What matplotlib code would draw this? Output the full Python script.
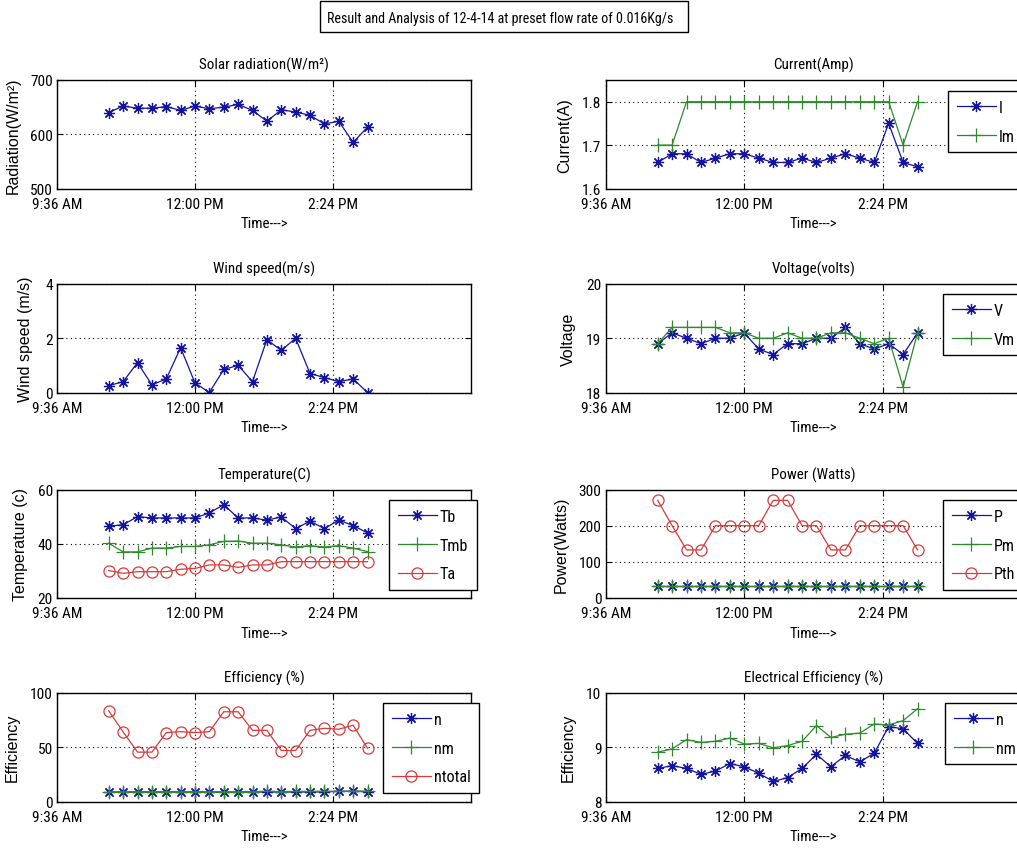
import matplotlib
matplotlib.use("Agg")
import matplotlib.pyplot as plt
from matplotlib.patches import Rectangle
from matplotlib import font_manager

# ---------------- data ----------------
times = ['10:30', '10:45', '11:00', '11:15', '11:30', '11:45', '12:00', '12:15',
         '12:30', '12:45', '13:00', '13:15', '13:30', '13:45', '14:00', '14:15',
         '14:30', '14:45', '15:00']

solar = [640, 652, 648, 648, 651, 644, 652, 647, 650, 655, 644, 624, 645, 641,
         635, 619, 624, 585, 613]
wind = [0.25, 0.4, 1.1, 0.28, 0.5, 1.65, 0.35, 0.0, 0.85, 1.0, 0.4, 1.95, 1.55,
        2.0, 0.7, 0.55, 0.4, 0.5, 0.0]
Tb = [46.5, 47, 50, 49.5, 49.5, 49.5, 49.5, 51.4, 54.4, 49.5, 49.5, 48.7, 49.9,
      45.6, 48.3, 45.6, 48.7, 46.7, 44.0]
Tmb = [40.2, 37, 37, 38.4, 38.4, 39, 39, 39.6, 40.9, 41, 40.2, 40.2, 39.6, 38.8,
       39.3, 38.8, 39.3, 38.4, 37.1]
Ta = [30.1, 29.1, 29.7, 29.7, 29.7, 30.6, 30.9, 32.2, 32.2, 31.3, 32.2, 32.2,
      33.4, 33.4, 33.4, 33.4, 33.4, 33.4, 33.4]
I = [1.66, 1.68, 1.68, 1.66, 1.67, 1.68, 1.68, 1.67, 1.66, 1.66, 1.67, 1.66,
     1.67, 1.68, 1.67, 1.66, 1.75, 1.66, 1.65]
Im = [1.7, 1.7, 1.8, 1.8, 1.8, 1.8, 1.8, 1.8, 1.8, 1.8, 1.8, 1.8, 1.8, 1.8,
      1.8, 1.8, 1.8, 1.7, 1.8]
V = [18.9, 19.1, 19.0, 18.9, 19.0, 19.0, 19.1, 18.8, 18.7, 18.9, 18.9, 19.0,
     19.0, 19.2, 18.9, 18.8, 18.9, 18.7, 19.1]
Vm = [18.9, 19.2, 19.2, 19.2, 19.2, 19.1, 19.1, 19.0, 19.0, 19.1, 19.0, 19.0,
      19.1, 19.1, 19.0, 18.9, 19.0, 18.1, 19.1]
P = [32, 32, 32, 32, 32, 32, 32, 32, 32, 32, 32, 32, 32, 32, 32, 32, 32, 32, 32]
Pm = [34, 34, 34, 34, 34, 34, 34, 34, 34, 34, 34, 34, 34, 34, 34, 34, 34, 34, 34]
Pth = [270, 200, 133, 133, 200, 200, 200, 200, 270, 270, 200, 200, 133, 133,
       200, 200, 200, 200, 133]
n_el = [8.61, 8.66, 8.61, 8.50, 8.56, 8.70, 8.64, 8.52, 8.37, 8.44, 8.61, 8.87,
        8.64, 8.85, 8.73, 8.89, 9.38, 9.34, 9.07]
nm_el = [8.91, 8.97, 9.14, 9.09, 9.11, 9.17, 9.06, 9.07, 8.99, 9.03, 9.11, 9.40,
         9.18, 9.24, 9.26, 9.43, 9.41, 9.49, 9.71]
ntotal = [83.6, 64.1, 45.5, 45.5, 63.5, 64.4, 63.5, 64.4, 82.7, 82.7, 65.6, 65.6,
          47, 47, 65.6, 67.5, 66.6, 70.3, 49]

xtick_hours = [9.6, 12.0, 14.4]
xtick_labels = ['9:36 AM', '12:00 PM', '2:24 PM']
fig_title = 'Result and Analysis of 12-4-14 at preset flow rate of 0.016Kg/s'

hours = [int(t.split(':')[0]) + int(t.split(':')[1]) / 60 for t in times]

# ---------------- fonts ----------------
available = {f.name for f in font_manager.fontManager.ttflist}
NARROW = 'Liberation Sans'
for cand in ['Liberation Sans Narrow', 'Roboto Condensed', 'DejaVu Sans Condensed',
             'Open Sans Condensed', 'Liberation Sans']:
    if cand in available:
        NARROW = cand
        break
WIDE = 'Liberation Sans' if 'Liberation Sans' in available else 'DejaVu Sans'
plt.rcParams['font.family'] = [NARROW, 'DejaVu Sans']

W, H = 1017, 862
fig = plt.figure(figsize=(W / 100, H / 100), dpi=100)
fig.patch.set_facecolor('white')
renderer = fig.canvas.get_renderer()


def fit_size(text, family, target_px):
    t = fig.text(0, 0, text, fontsize=10, family=family)
    w = t.get_window_extent(renderer).width
    t.remove()
    return 10 * target_px / w


FS = min(fit_size('12:00 PM', NARROW, 57), 12)
TFS = FS * 0.98
BOXFS = min(fit_size(fig_title, NARROW, 345), 12)
YFS = min(fit_size('Temperature (c)', WIDE, 158), 11.5)

BLUE = '#1414a0'
GREEN = '#2f8a2f'
RED = '#d83a3a'
AST = (8, 2, 0)


def make_ax(left_px, top_px, width_px, height_px=108.5):
    return fig.add_axes([left_px / W, 1 - (top_px + height_px) / H,
                         width_px / W, height_px / H])


def style(ax, ylim, yticks, title, ylabel, ylab_x):
    ax.set_xlim(9.6, 16.8)
    ax.set_ylim(*ylim)
    ax.set_xticks(xtick_hours)
    ax.set_xticklabels(xtick_labels)
    ax.set_yticks(yticks)
    ax.set_yticklabels([('%g' % v) for v in yticks])
    ax.tick_params(direction='in', length=4, width=0.8, top=True, right=True,
                   labelsize=FS, pad=3)
    ax.tick_params(axis='x', pad=6)
    ax.grid(True, color='black', linestyle=(0, (1, 3)), linewidth=0.8)
    for s in ax.spines.values():
        s.set_linewidth(1.0)
    ax.set_title(title, fontsize=TFS, pad=8)
    ax.set_xlabel('Time--->', fontsize=TFS, labelpad=4)
    ax.set_ylabel(ylabel, family=[WIDE, 'DejaVu Sans'], fontsize=YFS)
    ax.yaxis.set_label_coords(ylab_x, 0.5)


def legend(ax, x_px, y_px):
    lg = ax.legend(loc='upper left', bbox_to_anchor=(x_px / W, 1 - y_px / H),
                   bbox_transform=fig.transFigure, borderaxespad=0,
                   fancybox=False, framealpha=1, edgecolor='black',
                   fontsize=FS * 1.05, handlelength=2.4, handletextpad=0.2,
                   labelspacing=0.85, borderpad=0.55)
    lg.get_frame().set_linewidth(1.0)
    return lg


LX, LW = 57, 414
RX, RW = 605.7, 415.8
tops = [81, 285, 490.5, 694]

line_kw = dict(linewidth=0.9)
ast_kw = dict(marker=AST, markersize=8, markeredgewidth=0.9)
plus_kw = dict(marker='+', markersize=10, markeredgewidth=0.9)
circ_kw = dict(marker='o', markersize=8, markerfacecolor='none', markeredgewidth=0.9)

# Solar radiation
ax = make_ax(LX, tops[0], LW)
ax.plot(hours, solar, color=BLUE, **ast_kw, **line_kw)
style(ax, (500, 700), [500, 600, 700], 'Solar radiation(W/m²)',
      'Radiation(W/m²)', -0.088)

# Current
ax = make_ax(RX, tops[0], RW)
ax.plot(hours, I, color=BLUE, label='I', **ast_kw, **line_kw)
ax.plot(hours, Im, color=GREEN, label='Im', **plus_kw, **line_kw)
style(ax, (1.6, 1.85), [1.6, 1.7, 1.8], 'Current(Amp)', 'Current(A)', -0.08)
legend(ax, 948, 92)

# Wind speed
ax = make_ax(LX, tops[1], LW)
ax.plot(hours, wind, color=BLUE, **ast_kw, **line_kw)
style(ax, (0, 4), [0, 2, 4], 'Wind speed(m/s)', 'Wind speed (m/s)', -0.058)

# Voltage
ax = make_ax(RX, tops[1], RW)
ax.plot(hours, V, color=BLUE, label='V', **ast_kw, **line_kw)
ax.plot(hours, Vm, color=GREEN, label='Vm', **plus_kw, **line_kw)
style(ax, (18, 20), [18, 19, 20], 'Voltage(volts)', 'Voltage', -0.072)
legend(ax, 943, 295)

# Temperature
ax = make_ax(LX, tops[2], LW)
ax.plot(hours, Tb, color=BLUE, label='Tb', **ast_kw, **line_kw)
ax.plot(hours, Tmb, color=GREEN, label='Tmb', **plus_kw, **line_kw)
ax.plot(hours, Ta, color=RED, label='Ta', **circ_kw, **line_kw)
style(ax, (20, 60), [20, 40, 60], 'Temperature(C)', 'Temperature (c)', -0.07)
legend(ax, 389, 501)

# Power
ax = make_ax(RX, tops[2], RW)
ax.plot(hours, P, color=BLUE, label='P', **ast_kw, **line_kw)
ax.plot(hours, Pm, color=GREEN, label='Pm', **plus_kw, **line_kw)
ax.plot(hours, Pth, color=RED, label='Pth', **circ_kw, **line_kw)
style(ax, (0, 300), [0, 100, 200, 300], 'Power (Watts)', 'Power(Watts)', -0.088)
legend(ax, 943, 501)

# Efficiency
ax = make_ax(LX, tops[3], LW)
ax.plot(hours, n_el, color=BLUE, label='n', **ast_kw, **line_kw)
ax.plot(hours, nm_el, color=GREEN, label='nm', **plus_kw, **line_kw)
ax.plot(hours, ntotal, color=RED, label='ntotal', **circ_kw, **line_kw)
style(ax, (0, 100), [0, 50, 100], 'Efficiency (%)', 'Efficiency', -0.089)
legend(ax, 383, 704)

# Electrical efficiency
ax = make_ax(RX, tops[3], RW)
ax.plot(hours, n_el, color=BLUE, label='n', **ast_kw, **line_kw)
ax.plot(hours, nm_el, color=GREEN, label='nm', **plus_kw, **line_kw)
style(ax, (8, 10), [8, 9, 10], 'Electrical Efficiency (%)', 'Efficiency', -0.072)
legend(ax, 945, 704)

# Title box
fig.patches.append(Rectangle((320 / W, 1 - 33 / H), 368 / W, 31 / H,
                             transform=fig.transFigure, fill=False,
                             edgecolor='black', linewidth=1.0))
fig.text(327 / W, 1 - 19 / H, fig_title, ha='left', va='center', fontsize=BOXFS)

fig.savefig('out.png', dpi=100)
